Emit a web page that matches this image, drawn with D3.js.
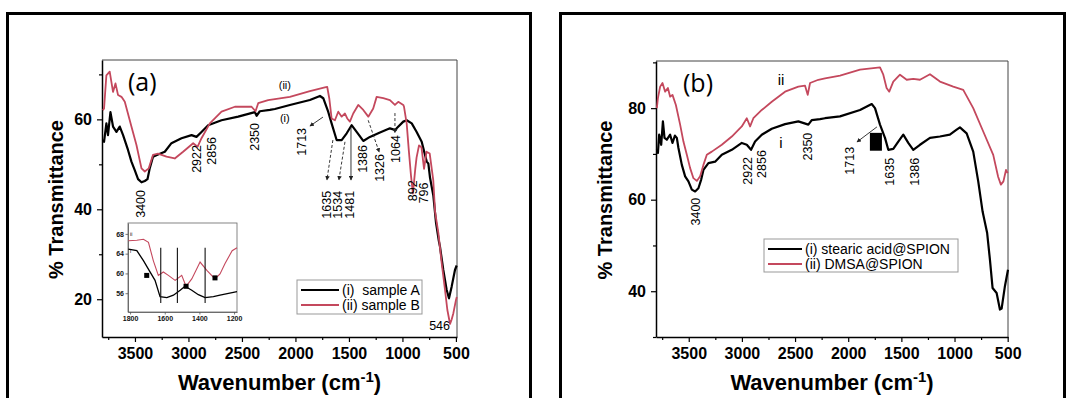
<!DOCTYPE html>
<html>
<head>
<meta charset="utf-8">
<script src="https://cdn.jsdelivr.net/npm/d3@7"></script>
<style>
  body { margin: 0; background: #fff; }
  svg { display: block; font-family: "Liberation Sans", Arial, sans-serif; }
</style>
</head>
<body>
<svg id="fig" width="1070" height="398"></svg>
<script>
// ---- data (wavenumber cm-1, % transmittance) ----
const sampleA = [[3800,55.5],[3789,55.0],[3767,59.1],[3752,56.5],[3729,61.6],[3705,58.4],[3673,57.2],[3642,58.4],[3611,56.5],[3565,53.2],[3533,50.6],[3502,48.7],[3471,46.7],[3439,46.0],[3408,46.3],[3383,46.7],[3362,49.1],[3331,51.7],[3284,52.2],[3221,52.8],[3159,54.7],[3065,55.8],[2971,56.5],[2925,56.1],[2878,57.2],[2816,58.7],[2691,59.8],[2535,60.6],[2379,61.6],[2363,60.8],[2333,61.8],[2239,62.1],[2192,62.3],[2052,63.2],[1865,64.3],[1771,65.2],[1740,64.7],[1694,61.7],[1662,59.1],[1615,55.4],[1568,55.4],[1521,56.9],[1475,58.7],[1428,57.2],[1366,55.2],[1304,56.1],[1210,57.1],[1117,58.0],[1064,57.6],[1054,58.0],[992,59.5],[960,59.8],[913,59.1],[867,57.2],[820,55.0],[805,53.6],[773,50.6],[758,50.2],[742,47.0],[711,43.0],[686,37.0],[660,33.0],[649,31.7],[618,26.5],[587,22.1],[565,20.2],[540,22.8],[509,26.5],[493,27.5]];
const sampleB = [[3800,62.0],[3789,62.4],[3767,69.8],[3736,70.6],[3705,66.1],[3682,68.0],[3658,65.4],[3626,65.0],[3595,63.9],[3533,58.4],[3486,54.3],[3439,49.1],[3408,48.4],[3371,49.1],[3331,52.1],[3284,52.4],[3205,51.7],[3128,51.3],[3050,52.8],[2956,54.7],[2915,53.9],[2878,55.8],[2800,59.1],[2691,61.7],[2566,62.8],[2410,62.8],[2373,61.8],[2348,63.6],[2255,64.3],[2192,64.5],[2052,65.0],[1865,66.3],[1725,67.1],[1703,67.2],[1684,64.7],[1662,60.2],[1631,59.8],[1600,61.7],[1568,60.6],[1537,61.3],[1516,60.2],[1491,59.5],[1460,61.3],[1413,63.2],[1366,62.1],[1319,60.6],[1273,62.4],[1241,65.0],[1179,64.7],[1117,64.3],[1070,63.2],[1039,63.9],[992,63.2],[985,62.8],[960,59.0],[940,53.0],[920,47.5],[902,43.5],[880,49.0],[868,51.5],[845,54.2],[822,53.8],[798,49.0],[775,52.8],[745,52.4],[712,46.5],[695,39.5],[664,34.7],[633,28.0],[602,22.1],[580,17.6],[555,14.5],[540,15.5],[524,16.9],[500,19.8],[492,20.5]];
const stearicSpion = [[3800,71.0],[3790,70.2],[3778,74.2],[3759,72.0],[3743,77.1],[3728,73.5],[3706,73.1],[3675,74.2],[3653,72.4],[3630,74.0],[3612,73.5],[3597,71.3],[3565,67.6],[3534,65.1],[3503,64.0],[3471,62.2],[3440,61.8],[3409,62.5],[3383,64.4],[3362,66.5],[3315,68.0],[3252,68.3],[3189,69.8],[3095,70.9],[3001,72.4],[2954,72.0],[2914,70.9],[2876,72.7],[2813,74.2],[2719,75.5],[2594,76.5],[2469,77.1],[2375,76.4],[2343,77.4],[2265,77.6],[2218,77.8],[2077,78.2],[1889,79.6],[1779,80.9],[1748,80.0],[1701,76.4],[1654,73.5],[1623,70.9],[1576,71.1],[1529,72.7],[1482,74.2],[1435,72.4],[1388,70.9],[1325,72.0],[1231,73.5],[1137,73.8],[1044,74.2],[980,75.3],[949,75.8],[886,74.5],[824,70.5],[777,64.0],[736,57.4],[693,52.7],[667,46.9],[642,40.7],[604,39.6],[573,36.0],[557,36.2],[526,41.1],[497,44.7]];
const dmsaSpion = [[3800,80.0],[3790,82.2],[3769,84.7],[3747,85.5],[3722,83.6],[3696,84.4],[3675,82.5],[3653,82.9],[3621,80.7],[3581,76.4],[3550,72.7],[3518,69.8],[3487,66.9],[3456,64.7],[3424,64.1],[3393,65.1],[3362,67.6],[3330,69.8],[3283,70.5],[3189,72.0],[3095,73.8],[3001,76.0],[2954,77.8],[2923,76.0],[2892,77.8],[2813,79.6],[2719,81.4],[2594,83.6],[2469,84.7],[2406,84.9],[2381,82.9],[2359,85.5],[2281,86.2],[2218,86.5],[2077,87.1],[1889,88.4],[1701,88.9],[1670,87.3],[1639,84.4],[1614,83.6],[1576,85.8],[1513,87.3],[1450,86.2],[1388,86.4],[1325,86.2],[1231,87.4],[1137,85.8],[1012,84.7],[918,84.0],[824,80.0],[730,74.9],[636,69.8],[590,65.0],[564,63.3],[540,64.0],[516,66.5],[500,65.8]];
const insetA = [[1810,64.9],[1761,64.6],[1723,62.6],[1685,60.3],[1656,58.6],[1627,55.3],[1588,55.1],[1550,55.6],[1511,56.6],[1483,57.4],[1444,56.6],[1406,55.7],[1367,55.1],[1319,55.3],[1281,55.6],[1183,56.3]];
const insetB = [[1810,66.6],[1761,66.7],[1723,66.9],[1694,66.3],[1666,62.6],[1637,59.6],[1608,60.3],[1579,59.6],[1540,58.6],[1502,59.6],[1477,57.4],[1444,58.9],[1396,62.3],[1357,60.6],[1310,58.9],[1281,59.9],[1252,62.0],[1211,64.6],[1183,65.2]];
const insetMarkers = [[1704,59.6],[1477,57.4],[1310,59.1]];
const insetLines = [1623, 1527, 1367];

const xTicks = [3500, 3000, 2500, 2000, 1500, 1000, 500];
const xMinor = [3750, 3250, 2750, 2250, 1750, 1250, 750];
const yTicksA = [20, 40, 60];
const yMinorA = [30, 50, 70];
const yTicksB = [40, 60, 80];
const yMinorB = [30, 50, 70, 90];
const insetXTicks = [1800, 1600, 1400, 1200];
const insetYTicks = [56, 60, 64, 68];

// peak labels: [wavenumber, transmittance at label centre, text]
const peaksA = [[3446,41.2,"3400"],[2922,51.2,"2922"],[2782,53.0,"2856"],[2379,56.1,"2350"],[1940,55.0,"1713"],[1706,41.0,"1635"],[1603,41.0,"1534"],[1491,41.0,"1481"],[1369,51.2,"1386"],[1210,49.2,"1326"],[1060,53.4,"1064"],[901,44.1,"892"],[798,43.6,"796"]];
const arrowsA = [[1743,60.5,1865,58.5,false],[1650,55.4,1706,46.5,true],[1537,55.0,1594,46.5,true],[1481,58.3,1481,46.5,false],[1320,59.8,1217,52.7,true],[1070,61.4,1070,57.0,true]];
const peaksB = [[3436,57.4,"3400"],[2942,66.3,"2922"],[2810,67.8,"2856"],[2378,71.6,"2350"],[1983,68.5,"1713"],[1608,66.1,"1635"],[1373,66.1,"1386"]];
const arrowsB = [[1730,75.9,1918,72.6,false]];

const RED = "#c4485d";
const svg = d3.select("#fig");

svg.append("defs").append("marker")
  .attr("id", "head").attr("viewBox", "0 0 10 10")
  .attr("refX", 9).attr("refY", 5)
  .attr("markerWidth", 5).attr("markerHeight", 5)
  .attr("orient", "auto")
  .append("path").attr("d", "M0,0L10,5L0,10z").attr("fill", "#222");

function xTitle(g, cx) {
  const t = g.append("text").attr("x", cx).attr("y", 390)
    .attr("text-anchor", "middle").attr("font-weight", "bold").attr("font-size", 22);
  t.append("tspan").text("Wavenumber (cm");
  t.append("tspan").attr("dy", -8).attr("font-size", 15).text("-1");
  t.append("tspan").attr("dy", 8).text(")");
}

function drawPanel(p) {
  const g = svg.append("g");

  // outer border of the panel
  g.append("rect").attr("x", p.frame[0]).attr("y", 13.5)
    .attr("width", p.frame[1] - p.frame[0]).attr("height", 420)
    .attr("fill", "none").attr("stroke", "#000").attr("stroke-width", 3);

  const x = d3.scaleLinear().domain(p.xDomain).range([p.left, p.right]);
  const y = d3.scaleLinear().domain(p.yDomain).range([p.bottom, p.top]);

  // top / right frame
  g.append("path")
    .attr("d", `M${p.left},${p.top}H${p.right}V${p.bottom}`)
    .attr("fill", "none").attr("stroke", "#444").attr("stroke-width", 1);

  const xa = g.append("g").attr("transform", `translate(0,${p.bottom})`)
    .call(d3.axisBottom(x).tickValues(xTicks).tickSize(5).tickSizeOuter(0).tickPadding(6).tickFormat(d3.format("d")));
  g.append("g").attr("transform", `translate(0,${p.bottom})`)
    .call(d3.axisBottom(x).tickValues(xMinor).tickSize(3).tickSizeOuter(0).tickFormat(""))
    .select(".domain").remove();
  const ya = g.append("g").attr("transform", `translate(${p.left},0)`)
    .call(d3.axisLeft(y).tickValues(p.yTicks).tickSize(5).tickSizeOuter(0).tickPadding(5).tickFormat(d3.format("d")));
  g.append("g").attr("transform", `translate(${p.left},0)`)
    .call(d3.axisLeft(y).tickValues(p.yMinor).tickSize(3).tickSizeOuter(0).tickFormat(""))
    .select(".domain").remove();
  [xa, ya].forEach(a => {
    a.selectAll("text").attr("font-size", 16).attr("font-weight", "bold")
      .attr("font-family", "Liberation Sans, Arial, sans-serif").attr("fill", "#000");
    a.select(".domain").attr("stroke-width", 1.5);
  });
  g.selectAll(".tick line").attr("stroke", "#000").attr("stroke-width", 1.2);

  // axis titles
  xTitle(g, (p.left + p.right) / 2);
  g.append("text")
    .attr("transform", `translate(${p.yTitleX},${(p.top + p.bottom) / 2 + 1}) rotate(-90)`)
    .attr("text-anchor", "middle").attr("font-weight", "bold").attr("font-size", 20)
    .text("% Transmittance");

  const line = d3.line().x(d => x(d[0])).y(d => y(d[1]));
  p.series.forEach(s => {
    g.append("path").datum(s.data).attr("d", line)
      .attr("fill", "none").attr("stroke", s.color).attr("stroke-width", s.width)
      .attr("stroke-linejoin", "round");
  });

  // panel letter
  g.append("text").attr("x", p.left + p.letterDx).attr("y", p.top + 31)
    .attr("font-family", "Open Sans, Liberation Sans, sans-serif").attr("font-size", 25)
    .text(p.letter);

  // peak labels
  p.peaks.forEach(d => {
    g.append("text")
      .attr("transform", `translate(${x(d[0])},${y(d[1])}) rotate(-90)`)
      .attr("text-anchor", "middle").attr("dominant-baseline", "central")
      .attr("font-size", 12.5).text(d[2]);
  });
  p.arrows.forEach(d => {
    g.append("line")
      .attr("x1", x(d[0])).attr("y1", y(d[1])).attr("x2", x(d[2])).attr("y2", y(d[3]))
      .attr("stroke", "#222").attr("stroke-width", 0.9)
      .attr("stroke-dasharray", d[4] ? "3,2" : null)
      .attr("marker-end", "url(#head)");
  });
  (p.notes || []).forEach(n => {
    g.append("text").attr("x", x(n[0])).attr("y", y(n[1]))
      .attr("text-anchor", n[3] || "middle").attr("dominant-baseline", "central")
      .attr("font-size", n[4] || 12).attr("fill", "#000").text(n[2]);
  });

  // legend
  const L = p.legend;
  g.append("rect").attr("x", L.x).attr("y", L.y).attr("width", L.w).attr("height", L.h)
    .attr("fill", "#fff").attr("stroke", "#999").attr("stroke-width", 1);
  L.items.forEach((it, i) => {
    const yy = L.y + 10 + i * 15;
    g.append("line").attr("x1", L.x + 4).attr("x2", L.x + 4 + L.lineLen)
      .attr("y1", yy).attr("y2", yy).attr("stroke", it.color).attr("stroke-width", it.width);
    g.append("text").attr("x", L.x + 7 + L.lineLen).attr("y", yy)
      .attr("dominant-baseline", "central").attr("font-size", 14)
      .style("white-space", "pre").text(it.label);
  });
  return { g, x, y };
}

// ---- panel (a) ----
const A = drawPanel({
  frame: [7.5, 530.5], left: 102, right: 457, top: 60, bottom: 337,
  xDomain: [3808, 490], yDomain: [11.6, 73.2], yTicks: yTicksA, yMinor: yMinorA,
  yTitleX: 63, letter: "(a)", letterDx: 26,
  series: [{ data: sampleA, color: "#000", width: 2.2 }, { data: sampleB, color: RED, width: 1.8 }],
  peaks: peaksA, arrows: arrowsA,
  notes: [[2099, 60.3, "(i)", "middle", 11], [2099, 67.6, "(ii)", "middle", 11], [555, 14.0, "546", "end", 12.5]],
  legend: { x: 297, y: 280, w: 125, h: 34, lineLen: 38,
    items: [{ label: "(i)  sample A", color: "#000", width: 2.2 }, { label: "(ii) sample B", color: RED, width: 1.8 }] }
});

// inset in panel (a)
(function () {
  const g = A.g.append("g");
  const ix = d3.scaleLinear().domain([1812, 1183]).range([128, 237]);
  const iy = d3.scaleLinear().domain([52.2, 70.2]).range([312, 223]);
  g.append("rect").attr("x", 128).attr("y", 223).attr("width", 109).attr("height", 89)
    .attr("fill", "#fff").attr("stroke", "#666").attr("stroke-width", 0.8);
  const bx = g.append("g").attr("transform", "translate(0,312)")
    .call(d3.axisBottom(ix).tickValues(insetXTicks).tickSize(2.5).tickSizeOuter(0).tickPadding(2).tickFormat(d3.format("d")));
  const by = g.append("g").attr("transform", "translate(128,0)")
    .call(d3.axisLeft(iy).tickValues(insetYTicks).tickSize(2.5).tickSizeOuter(0).tickPadding(1.5).tickFormat(d3.format("d")));
  [bx, by].forEach(a => {
    a.selectAll("text").attr("font-size", 7).attr("font-weight", "bold").attr("fill", "#111");
    a.selectAll("line,path").attr("stroke", "#555").attr("stroke-width", 0.8);
  });
  const il = d3.line().x(d => ix(d[0])).y(d => iy(d[1]));
  g.append("path").datum(insetB).attr("d", il).attr("fill", "none").attr("stroke", RED).attr("stroke-width", 1.1);
  g.append("path").datum(insetA).attr("d", il).attr("fill", "none").attr("stroke", "#000").attr("stroke-width", 1.3);
  insetLines.forEach(w => {
    g.append("line").attr("x1", ix(w)).attr("x2", ix(w)).attr("y1", iy(65.2)).attr("y2", iy(54))
      .attr("stroke", "#111").attr("stroke-width", 1.1);
  });
  insetMarkers.forEach(d => {
    g.append("rect").attr("x", ix(d[0]) - 2.5).attr("y", iy(d[1]) - 2.5)
      .attr("width", 5).attr("height", 5).attr("fill", "#000");
  });
  g.append("text").attr("x", ix(1800)).attr("y", iy(68)).attr("font-size", 5)
    .attr("dominant-baseline", "central").text("ii");
  g.append("text").attr("x", ix(1800)).attr("y", iy(64.6)).attr("font-size", 5)
    .attr("dominant-baseline", "central").text("i");
})();

// ---- panel (b) ----
const B = drawPanel({
  frame: [560.5, 1064.5], left: 656, right: 1008, top: 61, bottom: 337,
  xDomain: [3808, 497], yDomain: [30, 90.3], yTicks: yTicksB, yMinor: yMinorB,
  yTitleX: 612, letter: "(b)", letterDx: 27,
  series: [{ data: stearicSpion, color: "#000", width: 2.2 }, { data: dmsaSpion, color: RED, width: 1.8 }],
  peaks: peaksB, arrows: arrowsB,
  notes: [[2632, 72.4, "i", "middle", 15], [2632, 86.2, "ii", "middle", 15]],
  legend: { x: 764, y: 239, w: 194, h: 33, lineLen: 34,
    items: [{ label: "(i) stearic acid@SPION", color: "#000", width: 2.2 }, { label: "(ii) DMSA@SPION", color: RED, width: 1.8 }] }
});
// filled block beside the 1713 label
B.g.append("rect")
  .attr("x", B.x(1796)).attr("y", B.y(74.6))
  .attr("width", B.x(1683) - B.x(1796)).attr("height", B.y(70.7) - B.y(74.6))
  .attr("fill", "#000");
</script>
</body>
</html>
